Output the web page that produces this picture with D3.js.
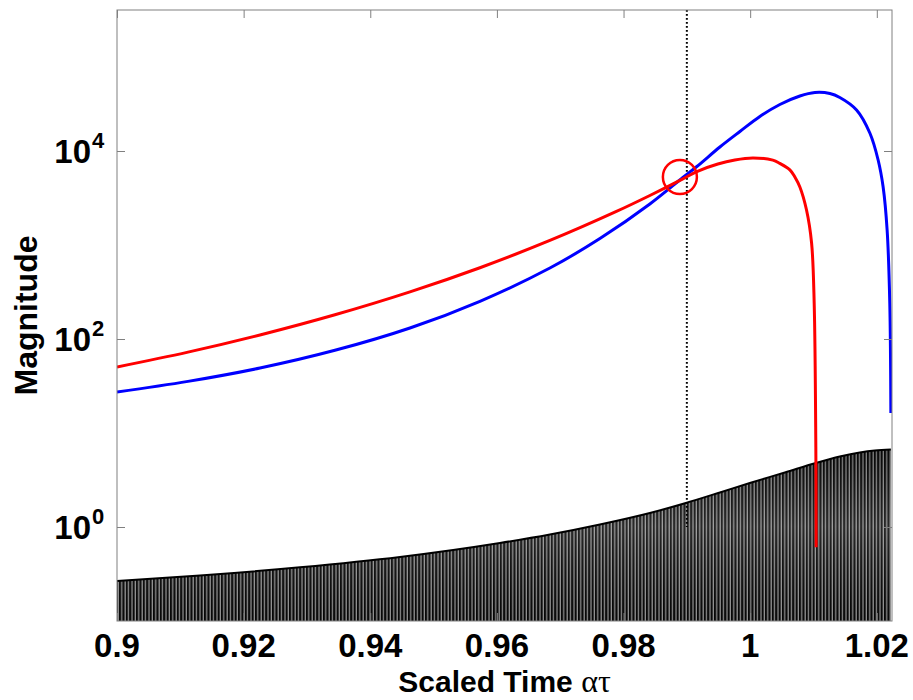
<!DOCTYPE html>
<html>
<head>
<meta charset="utf-8">
<script src="https://cdn.jsdelivr.net/npm/d3@7/dist/d3.min.js"></script>
<style>
  html, body { margin: 0; padding: 0; background: #fff; }
  svg { display: block; }
  text { font-family: "Liberation Sans", Arial, Helvetica, sans-serif; font-weight: bold; fill: #000; }
</style>
</head>
<body>
<svg id="chart" width="913" height="700"></svg>
<script>
// ---- data ----
const xTicks = [0.9, 0.92, 0.94, 0.96, 0.98, 1, 1.02];
const xTickLabels = ["0.9", "0.92", "0.94", "0.96", "0.98", "1", "1.02"];
const yTicks = [1, 100, 10000];
const yTickExponents = ["0", "2", "4"];

const redT = [0.9000, 0.91121, 0.92258, 0.93442, 0.94627, 0.95732, 0.96837, 0.97879, 0.98416, 0.98937, 0.99158, 0.99490, 0.99758, 1.00043, 1.00358, 1.00469, 1.00627, 1.00706, 1.00785, 1.00890, 1.00970, 1.01011, 1.01037, 1.01042];
const redV = [50.4, 72.5, 110.3, 180.9, 317, 573, 1117, 2261, 3362, 5050, 6050, 7275, 8024, 8424, 7990, 7380, 6300, 5290, 4140, 2355, 1050, 242, 7.1, 0.61];

const blueT = [0.9000, 0.91121, 0.92258, 0.93442, 0.94627, 0.95732, 0.96837, 0.97627, 0.98416, 0.98937, 0.99158, 0.99522, 0.99838, 1.00153, 1.00469, 1.00785, 1.01022, 1.01259, 1.01416, 1.01680, 1.01890, 1.02021, 1.02100, 1.02163, 1.02205, 1.02222];
const blueV = [27.3, 35.4, 49.1, 75.8, 131, 252, 569, 1172, 2731, 5225, 6840, 11030, 16120, 23280, 31240, 38470, 41910, 40900, 37080, 27310, 15540, 8024, 4140, 1444, 242, 16.3];

// envelope of the fast oscillating signal (black band)
const envT = [0.9000, 0.91311, 0.92890, 0.94469, 0.96048, 0.96837, 0.97627, 0.98416, 0.98985, 0.99522, 0.99995, 1.00548, 1.01037, 1.01416, 1.01732, 1.01969, 1.02222];
const envV = [0.2665, 0.305, 0.3726, 0.480, 0.676, 0.832, 1.063, 1.409, 1.80, 2.33, 2.94, 3.80, 4.80, 5.62, 6.20, 6.51, 6.68];

const markerT = 0.99;          // dotted vertical line
const markerBottomV = 1;
const crossT = 0.9889, crossV = 5290; // red circle at crossing

// ---- layout ----
const L = 117, R = 892, T = 10, B = 621;
const svg = d3.select("#chart");
const x = d3.scaleLinear().domain([0.9, 1.0224]).range([L, R]);
const y = d3.scaleLog().domain([0.1, Math.pow(10, 5.5)]).range([B, T]);

const defs = svg.append("defs");
defs.append("clipPath").attr("id", "clip")
  .append("rect").attr("x", L).attr("y", T).attr("width", R - L).attr("height", B - T);

const pat = defs.append("pattern").attr("id", "osc")
  .attr("patternUnits", "userSpaceOnUse").attr("width", 3.4).attr("height", 20);
pat.append("rect").attr("width", 3.4).attr("height", 20).attr("fill", "#333");
pat.append("rect").attr("x", 0).attr("width", 1.6).attr("height", 20).attr("fill", "#050505");
pat.append("rect").attr("x", 2.4).attr("width", 0.7).attr("height", 20).attr("fill", "#f2f2f2");

const shade = defs.append("linearGradient").attr("id", "shade")
  .attr("x1", 0).attr("y1", 0).attr("x2", 0).attr("y2", 1);
shade.append("stop").attr("offset", "0%").attr("stop-color", "#000").attr("stop-opacity", 0.25);
shade.append("stop").attr("offset", "45%").attr("stop-color", "#888").attr("stop-opacity", 0.25);
shade.append("stop").attr("offset", "100%").attr("stop-color", "#000").attr("stop-opacity", 0.15);

const g = svg.append("g").attr("clip-path", "url(#clip)");

const env = envT.map((t, i) => ({ t, v: envV[i] }));
const red = redT.map((t, i) => ({ t, v: redV[i] }));
const blue = blueT.map((t, i) => ({ t, v: blueV[i] }));

const envArea = d3.area().x(d => x(d.t)).y0(B).y1(d => y(d.v)).curve(d3.curveMonotoneX);
g.append("path").datum(env).attr("d", envArea).attr("fill", "url(#osc)");
g.append("path").datum(env).attr("d", envArea).attr("fill", "url(#shade)");
g.append("path").datum(env)
  .attr("d", d3.line().x(d => x(d.t)).y(d => y(d.v)).curve(d3.curveMonotoneX))
  .attr("fill", "none").attr("stroke", "#000").attr("stroke-width", 2);

// dotted marker line
g.append("line")
  .attr("x1", x(markerT)).attr("x2", x(markerT))
  .attr("y1", T).attr("y2", y(markerBottomV))
  .attr("stroke", "#000").attr("stroke-width", 2)
  .attr("stroke-dasharray", "1.8,2.2");

const line = d3.line().x(d => x(d.t)).y(d => y(d.v)).curve(d3.curveCatmullRom.alpha(0.5));
g.append("path").datum(blue).attr("d", line)
  .attr("fill", "none").attr("stroke", "#0000ff").attr("stroke-width", 3);
g.append("path").datum(red).attr("d", line)
  .attr("fill", "none").attr("stroke", "#ff0000").attr("stroke-width", 3);

g.append("circle").attr("cx", x(crossT)).attr("cy", y(crossV)).attr("r", 17)
  .attr("fill", "none").attr("stroke", "#ff0000").attr("stroke-width", 2.5);

// ---- axes (box with inward ticks) ----
const boxColor = "#808080";
const tk = 8;
function styleAxis(sel) {
  sel.select(".domain").remove();
  sel.selectAll(".tick line").attr("stroke", boxColor).attr("stroke-width", 1);
  sel.selectAll(".tick text").remove();
}
svg.append("g").attr("transform", `translate(0,${B})`)
  .call(d3.axisBottom(x).tickValues(xTicks).tickSize(-tk)).call(styleAxis);
svg.append("g").attr("transform", `translate(0,${T})`)
  .call(d3.axisTop(x).tickValues(xTicks).tickSize(-tk)).call(styleAxis);
svg.append("g").attr("transform", `translate(${L},0)`)
  .call(d3.axisLeft(y).tickValues(yTicks).tickSize(-tk)).call(styleAxis);
svg.append("g").attr("transform", `translate(${R},0)`)
  .call(d3.axisRight(y).tickValues(yTicks).tickSize(-tk)).call(styleAxis);

svg.append("rect").attr("x", L).attr("y", T).attr("width", R - L).attr("height", B - T)
  .attr("fill", "none").attr("stroke", boxColor).attr("stroke-width", 1);

// x tick labels
svg.append("g").selectAll("text").data(xTicks).join("text")
  .attr("x", d => x(d)).attr("y", 657)
  .attr("text-anchor", "middle").attr("font-size", 33)
  .text((d, i) => xTickLabels[i]);

// y tick labels 10^n
const yl = svg.append("g").selectAll("g").data(yTicks).join("g");
yl.append("text").attr("x", 91).attr("y", d => y(d) + 12)
  .attr("text-anchor", "end").attr("font-size", 33).text("10");
yl.append("text").attr("x", 92).attr("y", d => y(d) - 3)
  .attr("text-anchor", "start").attr("font-size", 22)
  .text((d, i) => yTickExponents[i]);

// axis titles
const xt = svg.append("text").attr("x", (L + R) / 2).attr("y", 692)
  .attr("text-anchor", "middle").attr("font-size", 30);
xt.append("tspan").text("Scaled Time ");
xt.append("tspan").attr("font-family", "'Liberation Serif', 'DejaVu Serif', serif")
  .attr("font-weight", "normal").attr("font-size", 32).text("ατ");

svg.append("text")
  .attr("transform", `translate(37,${(T + B) / 2}) rotate(-90)`)
  .attr("text-anchor", "middle").attr("font-size", 32).text("Magnitude");
</script>
</body>
</html>
